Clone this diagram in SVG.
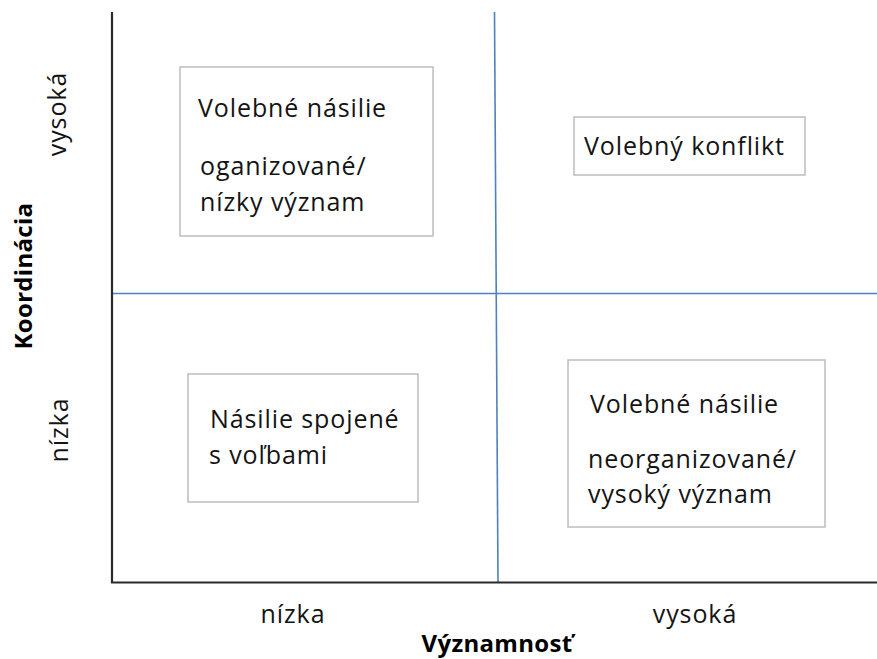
<svg xmlns="http://www.w3.org/2000/svg" width="877" height="659" viewBox="0 0 877 659">
<style>
.t{font-family:"Open Sans","Noto Sans",sans-serif;font-size:25px;letter-spacing:0.9px;fill:#141414}
.b{font-family:"Open Sans","Noto Sans",sans-serif;font-size:24px;letter-spacing:0.3px;font-weight:bold;fill:#000}
.box{fill:#fff;stroke:#bdbdbd;stroke-width:1.5}
.ax{stroke:#2a2a2a;stroke-width:2.2;fill:none}
.bl{stroke:#4f81bd;stroke-width:1.6;fill:none}
</style>
<rect width="877" height="659" fill="#fff"/>
<g id="connectors">
<line class="bl" x1="112" y1="293.5" x2="877" y2="293.5"/>
<line class="bl" x1="494.5" y1="12" x2="498" y2="582"/>
<polyline class="ax" points="112,12 112,582.5 877,582.5"/>
</g>
<g id="axis-labels">
<text class="t" text-anchor="middle" transform="translate(66,114) rotate(-90)">vysoká</text>
<text class="t" text-anchor="middle" transform="translate(68,430) rotate(-90)">nízka</text>
<text class="b" text-anchor="middle" transform="translate(32,276) rotate(-90)">Koordinácia</text>
<text class="t" text-anchor="middle" x="293" y="623">nízka</text>
<text class="t" text-anchor="middle" x="695" y="623">vysoká</text>
<text class="b" text-anchor="middle" x="497" y="652">Významnosť</text>
</g>
<g id="node-1">
<rect class="box" x="180" y="67" width="253" height="169"/>
<text class="t" x="198" y="117">Volebné násilie</text>
<text class="t" x="200" y="175">oganizované/</text>
<text class="t" x="200" y="211">nízky význam</text>
</g>
<g id="node-2">
<rect class="box" x="574" y="117" width="231" height="58"/>
<text class="t" x="584" y="155">Volebný konflikt</text>
</g>
<g id="node-3">
<rect class="box" x="188" y="374" width="230" height="128"/>
<text class="t" x="210" y="428">Násilie spojené</text>
<text class="t" x="209" y="464">s voľbami</text>
</g>
<g id="node-4">
<rect class="box" x="568" y="360" width="257" height="167"/>
<text class="t" x="590" y="413">Volebné násilie</text>
<text class="t" x="588" y="468">neorganizované/</text>
<text class="t" x="588" y="503">vysoký význam</text>
</g>
</svg>
